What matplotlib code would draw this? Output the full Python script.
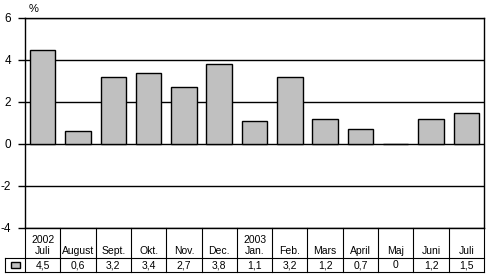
import matplotlib
matplotlib.use("Agg")
import matplotlib.pyplot as plt
from matplotlib.transforms import blended_transform_factory
from matplotlib.patches import Rectangle
from matplotlib.lines import Line2D

years = ["2002", "", "", "", "", "", "2003", "", "", "", "", "", ""]
months = ["Juli", "August", "Sept.", "Okt.", "Nov.", "Dec.", "Jan.", "Feb.", "Mars", "April", "Maj", "Juni", "Juli"]
values = [4.5, 0.6, 3.2, 3.4, 2.7, 3.8, 1.1, 3.2, 1.2, 0.7, 0.0, 1.2, 1.5]
yticks = [-4, -2, 0, 2, 4, 6]

W, H = 486, 274
fig = plt.figure(figsize=(W / 100, H / 100), dpi=100)
plt.rcParams['font.family'] = ['Liberation Sans', 'DejaVu Sans']
left, right, top, bottom = 25, 484, 18, 228
ax = fig.add_axes([left / W, 1 - bottom / H, (right - left) / W, (bottom - top) / H])

n = len(values)
x = list(range(n))
ax.bar(x, values, width=0.72, color="#C0C0C0", edgecolor="black", linewidth=1, zorder=3)
ax.set_xlim(-0.5, n - 0.5)
ax.set_ylim(-4, 6)
ax.set_yticks(yticks)
ax.set_yticklabels([str(t) for t in yticks], fontsize=8.5)
ax.yaxis.grid(True, color="black", linewidth=1)
ax.set_axisbelow(True)
ax.set_xticks([])
ax.tick_params(axis="y", direction="out", length=5, width=1, pad=5)
for s in ax.spines.values():
    s.set_linewidth(1)
    s.set_color("black")
ax.text(-0.5 + 4 / 35.3, 6.45, "%", fontsize=8, ha="left", va="center")

# table
ph = bottom - top
tr = blended_transform_factory(ax.transData, ax.transAxes)
h1 = -30 / ph
h2 = -44 / ph
colw = (right - left) / n
lab_left = -0.5 - 20 / colw
lw = 0.8
for i in range(n + 1):
    ax.add_line(Line2D([i - 0.5, i - 0.5], [0, h2], transform=tr, color="black", lw=lw, clip_on=False))
ax.add_line(Line2D([lab_left, n - 0.5], [h1, h1], transform=tr, color="black", lw=lw, clip_on=False))
ax.add_line(Line2D([lab_left, n - 0.5], [h2, h2], transform=tr, color="black", lw=lw, clip_on=False))
ax.add_line(Line2D([lab_left, lab_left], [h1, h2], transform=tr, color="black", lw=lw, clip_on=False))
# legend swatch
sw_w = 9 / colw
sw_h = 6 / ph
cx = (lab_left + -0.5) / 2
ax.add_patch(Rectangle((cx - sw_w / 2, (h1 + h2) / 2 - sw_h / 2), sw_w, sw_h, transform=tr,
                       facecolor="#C0C0C0", edgecolor="black", lw=1, clip_on=False))
for i in range(n):
    lab = months[i] if not years[i] else years[i] + "\n" + months[i]
    ax.text(i, h1 + 1.5 / ph, lab, transform=tr, ha="center", va="bottom", fontsize=7.5, linespacing=1.15)
    v = values[i]
    s = "0" if v == 0 else f"{v:.1f}".replace(".", ",")
    ax.text(i, (h1 + h2) / 2, s, transform=tr, ha="center", va="center", fontsize=7.5)

fig.savefig("out.png", dpi=100)
